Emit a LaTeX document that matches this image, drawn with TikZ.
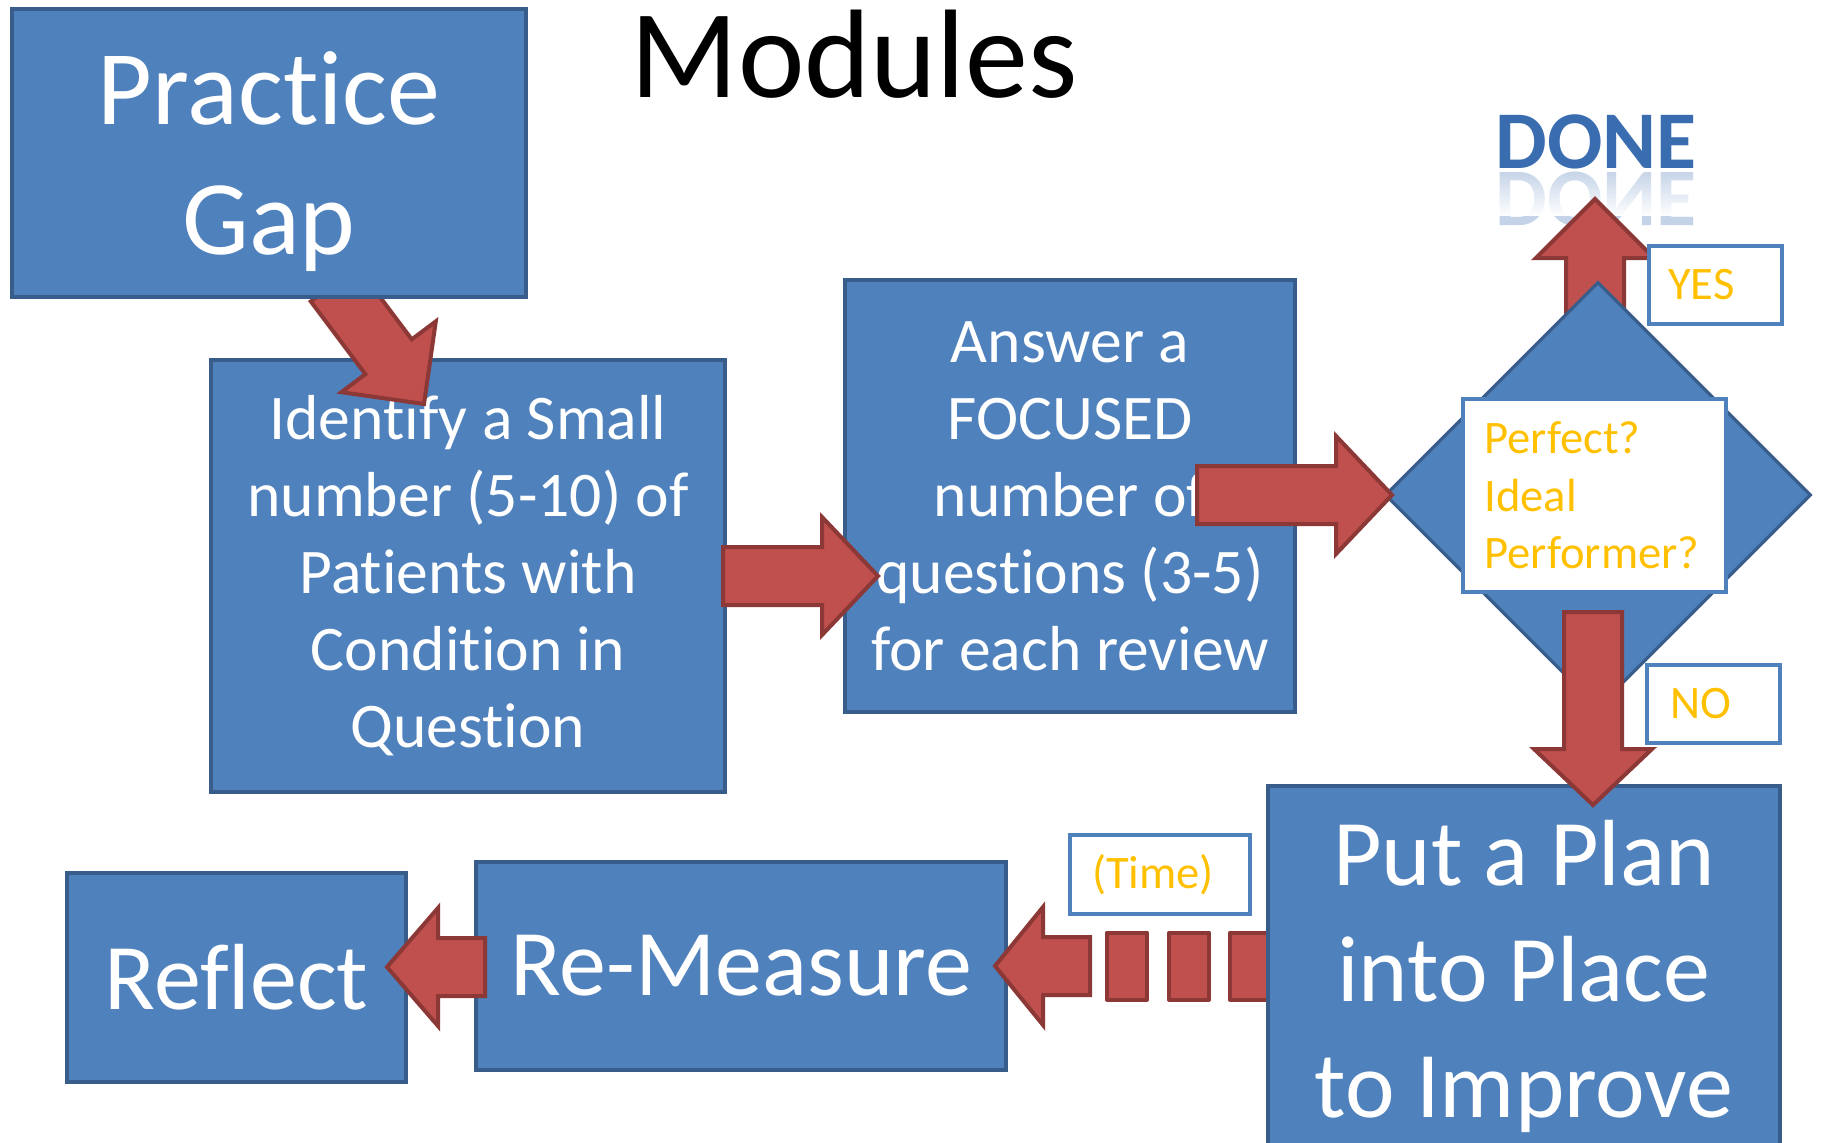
\documentclass[tikz,border=0pt]{standalone}
\usepackage{fontspec}
\setmainfont{Carlito}[Ligatures={NoCommon,NoContextual,NoRare}]
\usepackage{tikz}
\usetikzlibrary{positioning, shapes.geometric, fadings}

\definecolor{boxblue}{HTML}{4F81BD}
\definecolor{boxline}{HTML}{385D8A}
\definecolor{arrowred}{HTML}{C0504D}
\definecolor{arrowline}{HTML}{8C3836}
\definecolor{labeltext}{HTML}{FFC000}
\definecolor{doneblue}{HTML}{3A6DB0}

\tikzfading[name=fadedown, top color=transparent!100, bottom color=transparent!0]

\tikzset{
  bluebox/.style={draw=boxline, fill=boxblue, line width=2pt, text=white, align=center, inner sep=0pt},
  labelbox/.style={draw=boxblue, fill=white, line width=2pt, text=labeltext, align=left,
    font=\fontsize{23.3}{28.7}\selectfont},
  fatarrow/.style={draw=arrowline, fill=arrowred, line width=2pt, line join=miter},
  dashblock/.style={draw=arrowline, fill=arrowred, line width=2pt, line join=round,
    minimum width=20pt, minimum height=33.5pt, inner sep=0pt},
  donetext/.style={text=doneblue, font=\fontsize{41}{41}\bfseries\selectfont, inner sep=0pt}
}

% block arrow from #2 to #3, head length #1
\newcommand{\blockarrow}[3][28pt]{%
  \pgfpointdiff{\pgfpointanchor{#2}{center}}{\pgfpointanchor{#3}{center}}%
  \pgfgetlastxy{\bax}{\bay}%
  \pgfmathsetmacro{\baang}{atan2(\bay,\bax)}%
  \pgfmathsetmacro{\balen}{veclen(\bax,\bay)}%
  \begin{scope}[shift={(#2)}, rotate=\baang]
    \draw[fatarrow] (0pt,-14.5pt) -- (\balen pt-#1,-14.5pt) -- (\balen pt-#1,-29.5pt)
      -- (\balen pt,0pt) -- (\balen pt-#1,29.5pt) -- (\balen pt-#1,14.5pt) -- (0pt,14.5pt) -- cycle;
  \end{scope}}

\begin{document}
\begin{tikzpicture}[x=0.5pt, y=-0.5pt]
\useasboundingbox (0,0) rectangle (1821,1142);
\clip (0,0) rectangle (1821,1142);

% title and result
\node[anchor=base, font=\fontsize{63}{63}\selectfont, inner sep=0pt] (title) at (854,97) {Modules};
\node[donetext, anchor=base] (done) at (1596,168) {DONE};
\begin{scope}[shift={(1596,172)}, yscale=-1]
  \node[donetext, transform shape, anchor=base, opacity=0.3] (doneshadow) at (0,0) {DONE};
\end{scope}
\fill[white, path fading=fadedown] (1480,170) rectangle (1712,216);

% boxes
\node[bluebox, minimum width=257pt, minimum height=216pt, font=\fontsize{31.8}{38.5}\selectfont] (ident) at (468,576)
  {Identify a Small\\number (5-10) of\\Patients with\\Condition in\\Question};
\node[bluebox, minimum width=225pt, minimum height=216pt, font=\fontsize{31.8}{38.5}\selectfont] (answer) at (1070,496)
  {Answer a\\FOCUSED\\number of\\questions (3-5)\\for each review};

\coordinate (gaptail) at (334,284);
\coordinate (identtip) at (424,404);
\blockarrow[29.5pt]{gaptail}{identtip}

\node[bluebox, minimum width=257pt, minimum height=144pt, font=\fontsize{53}{65}\selectfont] (gap) at (269,153)
  {\strut Practice\\Gap};

\coordinate (identout) at (723,576);
\coordinate (answerin) at (878,576);
\blockarrow{identout}{answerin}

% decision
\coordinate (checkout) at (1595,320);
\coordinate (donein) at (1595,199);
\blockarrow[29.5pt]{checkout}{donein}

\node[diamond, draw=boxline, fill=boxblue, line width=1.6pt, inner sep=0pt, aspect=1,
  minimum width=213pt, minimum height=213pt] (check) at (1598,495) {};
\node[labelbox, minimum width=131.5pt, minimum height=96.5pt, text width=110pt] (perfect) at (1594.5,495.5)
  {Perfect?\\Ideal\\Performer?};

\coordinate (answerout) at (1197,495);
\coordinate (checkin) at (1392,495);
\blockarrow{answerout}{checkin}

\node[labelbox, minimum width=66.5pt, minimum height=39pt, text width=47.5pt] (yes) at (1715.5,285) {YES};
\node[labelbox, minimum width=66.5pt, minimum height=39pt, text width=43.5pt] (no) at (1713.5,704) {NO};

% bottom row
\foreach \x [count=\i] in {1127,1189,1250}
  \node[dashblock] (wait\i) at (\x,966) {};

\node[bluebox, minimum width=256pt, minimum height=190pt, font=\fontsize{47}{58}\selectfont] (plan) at (1524,976)
  {Put a Plan\\into Place\\to Improve};

\coordinate (checkdown) at (1593,612);
\coordinate (planin) at (1593,805);
\blockarrow{checkdown}{planin}

\node[bluebox, minimum width=265pt, minimum height=104pt, font=\fontsize{47}{58}\selectfont] (remeasure) at (741,966)
  {Re-Measure};
\node[bluebox, minimum width=169.5pt, minimum height=104.5pt, font=\fontsize{47}{58}\selectfont] (reflect) at (236.5,977.5)
  {Reflect};

\coordinate (waitout) at (1090,966);
\coordinate (remeasurein) at (995,966);
\blockarrow[24pt]{waitout}{remeasurein}

\coordinate (remeasureout) at (485,967);
\coordinate (reflectin) at (387,967);
\blockarrow[25.5pt]{remeasureout}{reflectin}

\node[labelbox, minimum width=90pt, minimum height=39.5pt, text width=68pt] (time) at (1160,874.5) {(Time)};
\end{tikzpicture}
\end{document}
